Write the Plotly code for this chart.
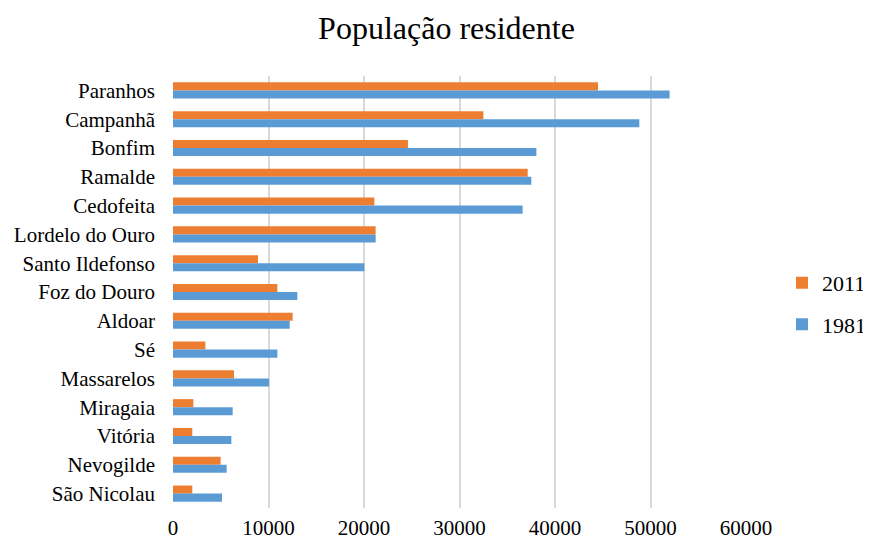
import plotly.graph_objects as go

categories = ["Paranhos", "Campanhã", "Bonfim", "Ramalde", "Cedofeita", "Lordelo do Ouro",
              "Santo Ildefonso", "Foz do Douro", "Aldoar", "Sé", "Massarelos", "Miragaia",
              "Vitória", "Nevogilde", "São Nicolau"]
pop_2011 = [44500, 32500, 24600, 37140, 21080, 21220, 8900, 10930, 12530, 3390, 6390, 2130, 2020, 4990, 2020]
pop_1981 = [52000, 48830, 38050, 37520, 36610, 21220, 20040, 13020, 12220, 10930, 10050, 6250, 6110, 5620, 5130]
x_ticks = [0, 10000, 20000, 30000, 40000, 50000, 60000]

FONT = "Liberation Serif, Times New Roman, serif"
W, H = 863, 532  # page body has an 8px margin

fig = go.Figure()
fig.add_trace(go.Bar(y=categories, x=pop_2011, name="2011", orientation="h",
                     marker=dict(color="#ED7D31", line=dict(width=0)), legendgroup="a"))
fig.add_trace(go.Bar(y=categories, x=pop_1981, name="1981", orientation="h",
                     marker=dict(color="#5B9BD5", line=dict(width=0)), legendgroup="b"))

fig.update_layout(
    width=W, height=H,
    paper_bgcolor="white", plot_bgcolor="white",
    font=dict(family=FONT, size=21, color="#000000"),
    title=dict(text="População residente", x=438.5 / W, xref="container", xanchor="center",
               y=1 - 20 / H, yref="container", yanchor="middle", font=dict(size=32, family=FONT)),
    barmode="group", bargap=0.44, bargroupgap=0,
    margin=dict(l=165, r=125, t=68, b=32, autoexpand=False),
    legend=dict(x=1.0, y=0.4726, xref="container", xanchor="right", yanchor="middle",
                tracegroupgap=10, borderwidth=0,
                font=dict(size=22, family=FONT), bgcolor="rgba(0,0,0,0)"),
    showlegend=True,
)
fig.update_xaxes(range=[0, 60000], tickvals=x_ticks, ticktext=[str(v) for v in x_ticks],
                 showgrid=True, gridcolor="#D9D9D9", gridwidth=1.5, zeroline=False,
                 showline=False, ticks="outside", ticklen=1, tickcolor="rgba(0,0,0,0)",
                 automargin=False, tickfont=dict(size=21, family=FONT))
fig.update_yaxes(autorange="reversed", showgrid=False, zeroline=False, showline=False,
                 ticks="", ticklabelstandoff=17, automargin=False,
                 tickfont=dict(size=21, family=FONT))

fig.write_html("out.html")
